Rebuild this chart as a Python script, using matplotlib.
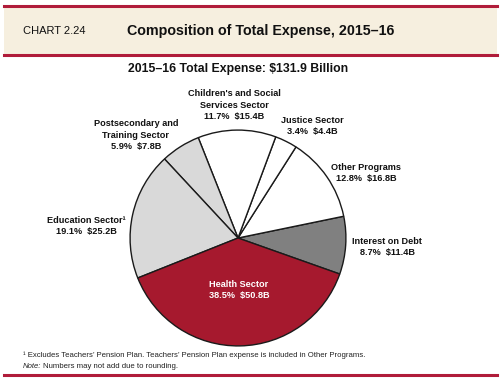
import matplotlib.pyplot as plt
from matplotlib.patches import Rectangle

plt.rcParams['font.family'] = ['Liberation Sans Narrow', 'Liberation Sans', 'DejaVu Sans']

# data (ccw from the Health/Interest boundary)
sectors = ['Interest on Debt', 'Other Programs', 'Justice Sector',
           "Children's and Social\nServices Sector", 'Postsecondary and\nTraining Sector',
           'Education Sector\u00b9', 'Health Sector']
shares = [8.7, 12.8, 3.4, 11.7, 5.9, 19.1, 38.5]
amounts = [11.4, 16.8, 4.4, 15.4, 7.8, 25.2, 50.8]
colors = ['#808080', 'white', 'white', 'white', '#d9d9d9', '#d9d9d9', '#a6192e']

# label centres in pixels (x, y from top)
label_pos = [(387, 247), (366, 173), (312, 126), (234, 105), (136, 135), (86, 226), (239, 290)]

W, H = 504, 386
RED = '#b01c3a'
fig = plt.figure(figsize=(W / 100, H / 100), dpi=100)


def px(x, y):
    return x / W, 1 - y / H


# header band
fig.patches.append(Rectangle(px(4, 55), 493 / W, 49 / H, transform=fig.transFigure,
                             facecolor='#f6efdf', edgecolor='none'))
for y in (6, 55, 374.5):
    fig.add_artist(plt.Line2D([4 / W, 497 / W], [1 - y / H] * 2, color=RED, lw=2.2))

fig.text(*px(23, 31), 'CHART 2.24', fontsize=8, va='center', ha='left', color='#111111')
fig.text(*px(127, 31), 'Composition of Total Expense, 2015\u201316', fontsize=10.3,
         fontweight='bold', va='center', ha='left', color='#111111')
fig.text(*px(238, 69), '2015\u201316 Total Expense: $131.9 Billion', fontsize=8.8,
         fontweight='bold', va='center', ha='center', color='#111111')

# pie
cx, cy, r = 238, 238, 109
ax = fig.add_axes([(cx - r) / W, (H - cy - r) / H, 2 * r / W, 2 * r / H])
ax.pie(amounts, colors=colors, startangle=-19.5, counterclock=True,
       wedgeprops=dict(edgecolor='#1a1a1a', linewidth=1.0))
ax.set_xlim(-1.01, 1.01)
ax.set_ylim(-1.01, 1.01)
ax.set_aspect('equal')
ax.axis('off')

for name, s, a, (x, y) in zip(sectors, shares, amounts, label_pos):
    txt = f'{name}\n{s}%  ${a}B'
    col = 'white' if name == 'Health Sector' else '#111111'
    fig.text(*px(x, y), txt, fontsize=6.6, fontweight='bold', ha='center', va='center',
             color=col, linespacing=1.35)

fig.text(*px(23, 355), '\u00b9 Excludes Teachers\u2019 Pension Plan. Teachers\u2019 Pension Plan expense is included in Other Programs.',
         fontsize=5.6, va='center', ha='left', color='#222222')
note = fig.text(*px(23, 366), 'Note:', fontsize=5.6, style='italic', va='center', ha='left',
                color='#222222')
bb = note.get_window_extent(renderer=fig.canvas.get_renderer())
fig.text(bb.x1 / W + 2 / W, 1 - 366 / H, 'Numbers may not add due to rounding.', fontsize=5.6,
         va='center', ha='left', color='#222222')

fig.savefig('out.png', dpi=100)
